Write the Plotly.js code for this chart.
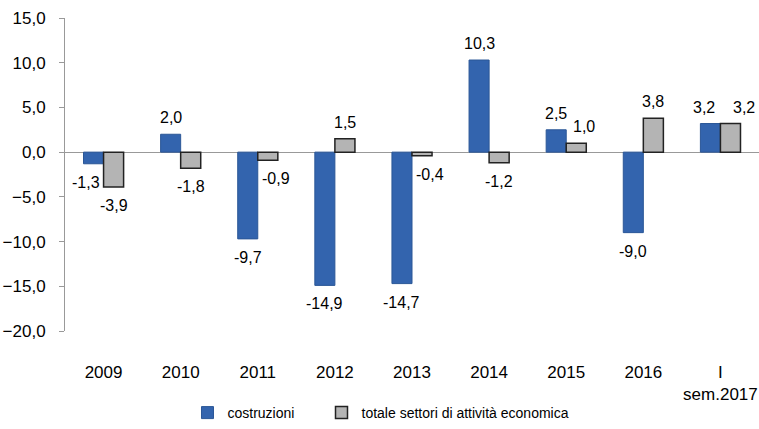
<!DOCTYPE html>
<html><head><meta charset="utf-8">
<script src="https://cdn.plot.ly/plotly-3.0.1.min.js"></script>
<style>body{margin:0;background:#fff}#c{width:759px;height:429px}</style>
</head><body><div id="c"></div>
<script>
const categories = ["2009","2010","2011","2012","2013","2014","2015","2016","I<br>sem.2017"];
const costruzioni = [-1.3, 2.0, -9.7, -14.9, -14.7, 10.3, 2.5, -9.0, 3.2];
const totale = [-3.9, -1.8, -0.9, 1.5, -0.4, -1.2, 1.0, 3.8, 3.2];
const seriesNames = ["costruzioni", "totale settori di attività economica"];
const yTicks = [15, 10, 5, 0, -5, -10, -15, -20];

const W = 759, H = 429, M = {l: 65, r: 0, t: 18, b: 95};
const BARGAP = 0.48;
const font = {family: "Liberation Sans, Arial, sans-serif", size: 16, color: "#000"};
const tickFont = {family: font.family, size: 17, color: "#000"};
const fmt = v => v.toFixed(1).replace(".", ",");

// data labels, placed at each bar end through the axes (x = category index)
const catW = (W - M.l - M.r) / categories.length;
const barOff = (1 - BARGAP) * catW / 4;
function labelAnns(vals, other, side) {
  return vals.map((v, i) => {
    const o = other[i];
    let shift = side * barOff;
    const sameSign = Math.sign(v) === Math.sign(o);
    if (Math.abs(o) > Math.abs(v) + 0.6 && sameSign) shift += side * 8;
    if (sameSign && Math.abs(v - o) < 1) shift += side > 0 ? 14 : -6;
    return {x: i, y: v, xref: "x", yref: "y", text: fmt(v), showarrow: false,
            xshift: shift, yanchor: v >= 0 ? "bottom" : "top", yshift: v >= 0 ? 6 : -8,
            font: font};
  });
}
const annotations = labelAnns(costruzioni, totale, -1).concat(labelAnns(totale, costruzioni, 1));

const traces = [
  {type: "bar", name: seriesNames[0], x: categories, y: costruzioni, legend: "legend",
   marker: {color: "#3364AE", line: {color: "#2B5797", width: 1}}, hoverinfo: "skip"},
  {type: "bar", name: seriesNames[1], x: categories, y: totale, legend: "legend2",
   marker: {color: "#B4B4B4", line: {color: "#222", width: 1.5}}, hoverinfo: "skip"}
];
const legFont = {family: font.family, size: 14, color: "#000"};
const layout = {
  width: W, height: H, margin: M,
  paper_bgcolor: "#fff", plot_bgcolor: "#fff",
  font: font, separators: ",.",
  barmode: "group", bargap: BARGAP, bargroupgap: 0,
  showlegend: true,
  legend: {orientation: "h", x: 0.1765, xanchor: "left", y: -0.262, yanchor: "middle", font: legFont},
  legend2: {orientation: "h", x: 0.3696, xanchor: "left", y: -0.262, yanchor: "middle", font: legFont},
  annotations: annotations,
  xaxis: {type: "category", range: [-0.5, categories.length - 0.5], autorange: false,
          showline: false, showgrid: false, zeroline: false,
          ticks: "", ticklabelstandoff: 29, tickfont: tickFont},
  yaxis: {range: [-20, 15], autorange: false, tickvals: yTicks, tickformat: ".1f",
          showgrid: false, showline: true, linecolor: "#999", linewidth: 1,
          ticks: "outside", ticklen: 5, tickcolor: "#999", ticklabelstandoff: 10,
          zeroline: true, zerolinecolor: "#999", zerolinewidth: 1, tickfont: tickFont}
};
Plotly.newPlot("c", traces, layout, {displayModeBar: false, staticPlot: true});
</script></body></html>
